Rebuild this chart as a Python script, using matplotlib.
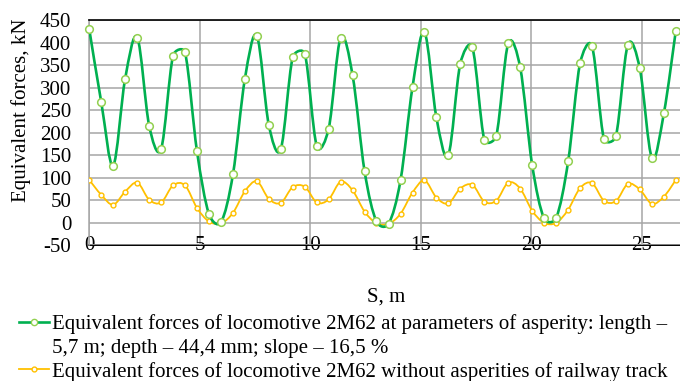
import numpy as np
import matplotlib

matplotlib.use("Agg")
import matplotlib.pyplot as plt
from matplotlib.path import Path
from matplotlib.patches import PathPatch
from matplotlib.lines import Line2D

plt.rcParams["font.family"] = ["Liberation Serif", "DejaVu Serif"]
plt.rcParams["axes.unicode_minus"] = False

# distance along the track, m
s = [0.00, 0.54, 1.08, 1.62, 2.17, 2.71, 3.25, 3.79, 4.33, 4.87,
     5.41, 5.96, 6.50, 7.04, 7.58, 8.12, 8.66, 9.20, 9.75, 10.29,
     10.83, 11.37, 11.91, 12.45, 12.99, 13.54, 14.08, 14.62, 15.16, 15.70,
     16.24, 16.78, 17.33, 17.87, 18.41, 18.95, 19.49, 20.03, 20.57, 21.12,
     21.66, 22.20, 22.74, 23.28, 23.82, 24.36, 24.90, 25.45, 25.99, 26.53]

# equivalent forces with asperity, kN
f_asperity = [429, 268, 127, 319, 411, 215, 164, 371, 378, 159,
              20, 2, 108, 320, 415, 217, 163, 367, 375, 170,
              209, 411, 327, 115, 3, -2, 95, 301, 423, 234,
              150, 353, 389, 184, 193, 398, 345, 129, 10, 11,
              136, 354, 392, 186, 192, 395, 343, 144, 243, 426]

# equivalent forces without asperities, kN
f_smooth = [95, 62, 40, 69, 89, 51, 45, 83, 83, 33,
            3, -1, 22, 70, 92, 53, 44, 79, 80, 45,
            52, 91, 72, 25, -1, -2, 20, 67, 94, 56,
            43, 76, 84, 47, 49, 89, 76, 27, 0, 0,
            29, 77, 88, 49, 48, 86, 74, 42, 58, 95]

LABEL_1A = "Equivalent forces of locomotive 2M62 at parameters of asperity: length \u2013"
LABEL_1B = "5,7 m; depth \u2013 44,4 mm; slope \u2013 16,5 %"
LABEL_2 = "Equivalent forces of locomotive 2M62 without asperities of railway track"

C_GREEN = "#00B050"
C_GREEN_MK = "#92D050"
C_YELLOW = "#FFC000"
C_GRID = "#A6A6A6"
FS = 15


def smooth_path(ax, x, y):
    """Excel-style smoothed line: cubic Bezier through the points, control
    arms built in screen space and capped at half the segment length."""
    to_disp = ax.transData
    pts = to_disp.transform(np.column_stack([x, y]).astype(float))
    n = len(pts)
    f = 1 / 6

    def arm(vec, seg_len):
        length = np.hypot(*vec) * f
        if length > seg_len / 2 and length > 0:
            return vec * f * (seg_len / 2) / length
        return vec * f

    verts = [pts[0]]
    codes = [Path.MOVETO]
    for i in range(n - 1):
        p0 = pts[i - 1] if i > 0 else pts[i]
        p1, p2 = pts[i], pts[i + 1]
        p3 = pts[i + 2] if i + 2 < n else pts[i + 1]
        d12 = np.hypot(*(p2 - p1))
        verts += [p1 + arm(p2 - p0, d12), p2 - arm(p3 - p1, d12), p2]
        codes += [Path.CURVE4] * 3
    verts = to_disp.inverted().transform(np.array(verts))
    return Path(verts, codes)


fig = plt.figure(figsize=(6.8, 3.81), dpi=100)
ax = fig.add_axes([89.3 / 680, 1 - 245.3 / 381, 1 - 89.3 / 680, (245.3 - 20) / 381])

ax.set_xlim(0, 26.72)
ax.set_ylim(-50, 450)
ax.set_yticks(np.arange(-50, 451, 50))
ax.set_xticks([0, 5, 10, 15, 20, 25])
ax.grid(True, color=C_GRID, lw=1.1)
ax.set_axisbelow(True)
ax.tick_params(axis="both", length=0, labelsize=FS)
ax.tick_params(axis="y", pad=13)
ax.tick_params(axis="x", pad=-7)

ax.spines["right"].set_visible(False)
ax.spines["left"].set_color(C_GRID)
ax.spines["left"].set_linewidth(1.1)
ax.spines["top"].set_color("#000000")
ax.spines["top"].set_linewidth(1.2)
ax.spines["bottom"].set_color("#000000")
ax.spines["bottom"].set_linewidth(1.4)
ax.spines["bottom"].set_zorder(0.5)

ax.add_patch(PathPatch(smooth_path(ax, s, f_smooth), fill=False, ec=C_YELLOW,
                       lw=1.3, zorder=3))
ax.plot(s, f_smooth, ls="none", marker="o", ms=3.5, mfc="white", mec=C_YELLOW,
        mew=1.0, zorder=4)

ax.add_patch(PathPatch(smooth_path(ax, s, f_asperity), fill=False, ec=C_GREEN,
                       lw=1.9, zorder=5))
ax.plot(s, f_asperity, ls="none", marker="o", ms=5.5, mfc="white", mec=C_GREEN_MK,
        mew=1.1, zorder=6, clip_on=False)

fig.text(21 / 680, 1 - 110 / 381, "Equivalent forces, kN", rotation=90,
         ha="center", va="center", fontsize=FS)
fig.text(386 / 680, 1 - 297 / 381, "S, m", ha="center", va="center", fontsize=FS)

handles = [
    Line2D([], [], color=C_GREEN, lw=1.9, marker="o", ms=4.5, mfc="white",
           mec=C_GREEN_MK, mew=1.0),
    Line2D([], [], color="none"),
    Line2D([], [], color=C_YELLOW, lw=1.3, marker="o", ms=3.5, mfc="white",
           mec=C_YELLOW, mew=1.0),
]
fig.legend(handles, [LABEL_1A, LABEL_1B, LABEL_2], loc="upper left",
           bbox_to_anchor=(19 / 680, 1 - 314 / 381), frameon=False,
           fontsize=FS, handlelength=1.45, handletextpad=0.15,
           labelspacing=0.2, borderpad=0, borderaxespad=0)

fig.savefig("out.png", dpi=100)
